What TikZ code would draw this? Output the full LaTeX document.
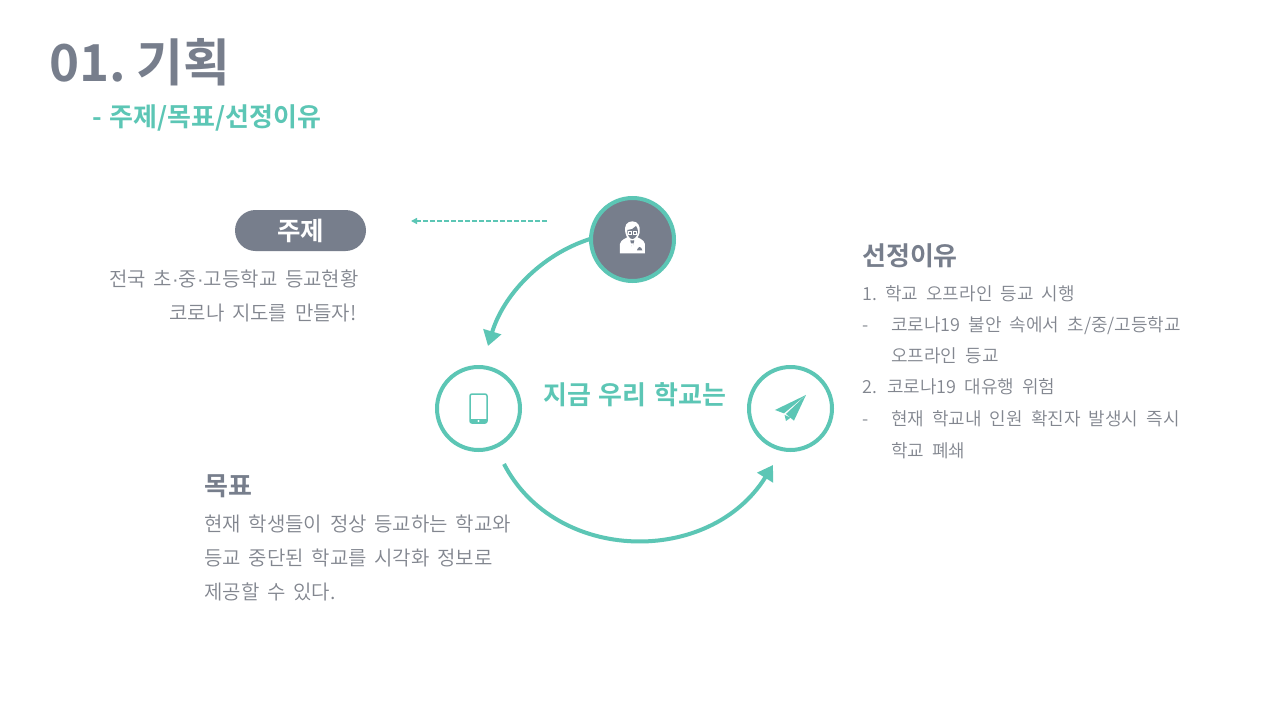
\documentclass[tikz,border=0pt]{standalone}
\usepackage{fontspec}
\setmainfont[BoldFont={Noto Sans CJK KR Bold},WordSpace=1.3]{Noto Sans CJK KR}
\newfontfamily\bodyf{Noto Sans CJK KR DemiLight}
\newfontfamily\dotf{Liberation Sans}
\usetikzlibrary{arrows.meta}
\definecolor{teal1}{HTML}{5CC6B5}
\definecolor{slate}{HTML}{777E8C}
\definecolor{bodyc}{HTML}{82868F}
\newcommand{\lbody}[1]{\bodyf\fontsize{20}{20}\selectfont\spaceskip 7.7pt\relax #1}
\newcommand{\rbody}[1]{\bodyf\fontsize{18}{18}\selectfont\spaceskip 8pt\relax #1}
\tikzset{
  ring/.style={circle,draw=teal1,line width=4pt,minimum size=83pt,inner sep=0pt},
  body/.style={anchor=base west,inner sep=0pt,text=bodyc},
  head/.style={anchor=base west,inner sep=0pt,text=slate,font=\fontsize{26}{26}\selectfont\bfseries},
  flow/.style={draw=teal1,line width=4pt,-{Triangle[length=15pt,width=18pt]}},
}
\begin{document}
\begin{tikzpicture}[x=1pt,y=-1pt]
\useasboundingbox (0,0) rectangle (1280,720);
\fill[white] (0,0) rectangle (1280,720);
% titles
\node[anchor=base west,inner sep=0pt,text=slate,font=\fontsize{51}{51}\selectfont\bfseries] (title) at (49,81) {01.\kern-8pt{} 기획};
\node[anchor=base west,inner sep=0pt,text=teal1,font=\fontsize{26}{26}\selectfont\bfseries] (sub) at (92,126) {- 주제/목표/선정이유};
% pill
\node[fill=slate,rounded corners=20.5pt,minimum width=131pt,minimum height=41pt,inner sep=0pt,text=white,font=\fontsize{25.5}{25.5}\selectfont\bfseries] (pill) at (300.5,230.5) {주제};
\node[body] (t1) at (109,286) {\lbody{전국 초{\dotf ·}중{\dotf ·}고등학교 등교현황}};
\node[body] (t2) at (169,320) {\lbody{코로나 지도를 만들자!}};
% goal
\node[head] (goal) at (204,495) {목표};
\node[body] (g1) at (204,531) {\lbody{현재 학생들이 정상 등교하는 학교와}};
\node[body] (g2) at (204,565) {\lbody{등교 중단된 학교를 시각화 정보로}};
\node[body] (g3) at (204,599) {\lbody{제공할 수 있다.}};
% reason
\node[head] (why) at (862,265) {선정이유};
\node[body] (r1n) at (862,300) {\rbody{1.}};
\node[body] (r1) at (885,300) {\rbody{학교 오프라인 등교 시행}};
\node[body] (r2n) at (862,331) {\rbody{-}};
\node[body] (r2) at (891,331) {\rbody{코로나19 불안 속에서 초/중/고등학교}};
\node[body] (r3) at (891,362) {\rbody{오프라인 등교}};
\node[body] (r4n) at (862,393) {\rbody{2.}};
\node[body] (r4) at (887,393) {\rbody{코로나19 대유행 위험}};
\node[body] (r5n) at (862,425) {\rbody{-}};
\node[body] (r5) at (891,425) {\rbody{현재 학교내 인원 확진자 발생시 즉시}};
\node[body] (r6) at (891,457) {\rbody{학교 폐쇄}};
% center label
\node[anchor=base west,inner sep=0pt,text=teal1,font=\fontsize{26}{26}\selectfont\bfseries] (center) at (543,404) {지금 우리 학교는};
% rings
\node[ring,fill=slate] (top) at (632.5,239.5) {};
\node[ring] (left) at (478.5,408.5) {};
\node[ring] (right) at (790.5,408.5) {};
% connectors
\coordinate (a1) at (590,239);
\coordinate (a2) at (488,346);
\coordinate (b1) at (504,464);
\coordinate (b2) at (773,465);
\coordinate (d1) at (547,221);
\coordinate (d2) at (411,221);
\draw[flow] (a1) .. controls (540,255) and (503,296) .. (a2);
\draw[flow] (b1) .. controls (556,564) and (710,566) .. (b2);
\draw[draw=teal1,line width=1.5pt,dash pattern=on 5pt off 2pt,-{Triangle[length=6pt,width=6pt]}] (d1) -- (d2);
% person icon
\begin{scope}[shift={(400,180)},x=.3333pt,y=-.3333pt]
\fill[white] (660,220) -- (660,192) .. controls (662,178) and (680,175) .. (688,168) -- (697,200) -- (706,168) .. controls (716,175) and (732,178) .. (735,192) -- (735,220) -- cycle;
\fill[white] (697,124) .. controls (680,124) and (672,138) .. (676,158) .. controls (679,172) and (688,182) .. (697,182) .. controls (706,182) and (716,172) .. (719,158) .. controls (722,138) and (714,124) .. (697,124) -- cycle;
\fill[slate] (682,150) .. controls (692,150) and (702,146) .. (708,138) .. controls (713,144) and (714,150) .. (714,156) .. controls (712,168) and (704,177) .. (697,177) .. controls (690,177) and (683,168) .. (682,156) -- cycle;
\draw[white,line width=.8pt] (684,153) rectangle (695,162) (699,153) rectangle (710,162);
\fill[slate] (691,182) -- (703,182) -- (697,204) -- cycle;
\fill[white] (693,190) -- (701,190) -- (697,214) -- cycle;
\fill[slate] (711,211) -- (727,211) -- (724,204) -- (719,201) -- (714,204) -- cycle;
\end{scope}
% phone icon
\begin{scope}[shift={(478.5,408.5)}]
\draw[teal1,line width=1.5pt,rounded corners=2pt] (-8.5,-14.5) rectangle (8.5,14.5);
\fill[teal1] (-8.5,10.5) rectangle (8.5,14.5);
\fill[white] (0,12.5) circle (1.1pt);
\end{scope}
% plane icon
\begin{scope}[shift={(420,350)},x=.3333pt,y=-.3333pt]
\fill[teal1] (1158,135) -- (1065,180) -- (1092,190) -- cycle;
\fill[teal1] (1158,135) -- (1098,192) -- (1122,212) -- cycle;
\fill[teal1] (1094,195) -- (1098,213) -- (1112,203) -- cycle;
\end{scope}
\end{tikzpicture}
\end{document}
